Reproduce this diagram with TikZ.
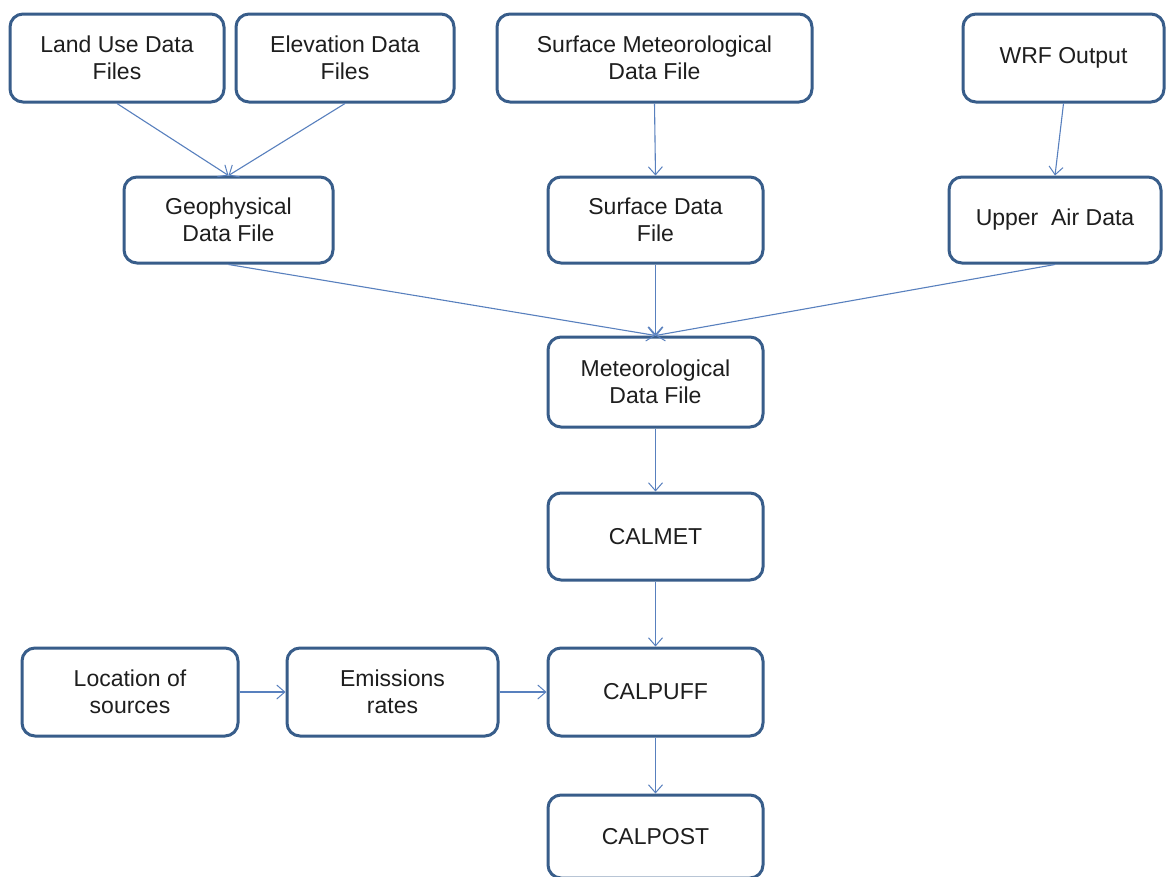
\documentclass[tikz,border=0pt]{standalone}
\usepackage{fontspec}
\setmainfont{Liberation Sans}
\usetikzlibrary{arrows.meta}
\definecolor{boxline}{RGB}{56,93,138}
\definecolor{arrowline}{RGB}{88,128,190}
\definecolor{txt}{RGB}{30,30,30}
\begin{document}
\begin{tikzpicture}[x=1pt,y=-1pt,
  box/.style={draw=boxline, line width=3pt, rounded corners=13pt, fill=white,
    align=center, text=txt, font=\fontsize{23}{27}\selectfont, inner sep=0pt},
  conn/.style={draw=arrowline, line width=1.1pt,
    -{Straight Barb[length=8pt,width=14pt,line width=1pt]}}]
\fill[white] (0,0) rectangle (1167,876);
\useasboundingbox (0,0) rectangle (1167,876);

\node[box, minimum width=214pt, minimum height=88pt] (landuse) at (117,58) {Land Use Data\\Files};
\node[box, minimum width=218pt, minimum height=88pt] (elev) at (345,58) {Elevation Data\\Files};
\node[box, minimum width=315pt, minimum height=88pt] (surfmet) at (654.5,58) {Surface Meteorological\\Data File};
\node[box, minimum width=201pt, minimum height=88pt] (wrf) at (1063.5,58) {WRF Output};
\node[box, minimum width=209pt, minimum height=86pt] (geo) at (228.5,220) {Geophysical\\Data File};
\node[box, minimum width=215pt, minimum height=86pt] (surfdata) at (655.5,220) {Surface Data\\File};
\node[box, minimum width=212pt, minimum height=86pt] (upper) at (1055,220) {Upper~ Air Data};
\node[box, minimum width=215pt, minimum height=90pt] (met) at (655.5,382) {Meteorological\\Data File};
\node[box, minimum width=215pt, minimum height=87pt] (calmet) at (655.5,536.5) {CALMET};
\node[box, minimum width=215pt, minimum height=88pt] (calpuff) at (655.5,692) {CALPUFF};
\node[box, minimum width=215pt, minimum height=83pt] (calpost) at (655.5,836.5) {CALPOST};
\node[box, minimum width=216pt, minimum height=88pt] (loc) at (130,692) {Location of\\sources};
\node[box, minimum width=211pt, minimum height=88pt] (emis) at (392.5,692) {Emissions\\rates};

\draw[conn] (landuse.south) -- (geo.north);
\draw[conn] (elev.south) -- (geo.north);
\draw[conn] (surfmet.south) -- (surfdata.north);
\draw[conn] (wrf.south) -- (upper.north);
\draw[conn] (geo.south) -- (met.north);
\draw[conn] (surfdata.south) -- (met.north);
\draw[conn] (upper.south) -- (met.north);
\draw[conn] (met.south) -- (calmet.north);
\draw[conn] (calmet.south) -- (calpuff.north);
\draw[conn] (calpuff.south) -- (calpost.north);
\draw[conn] (loc.east) -- (emis.west);
\draw[conn] (emis.east) -- (calpuff.west);
\end{tikzpicture}
\end{document}
